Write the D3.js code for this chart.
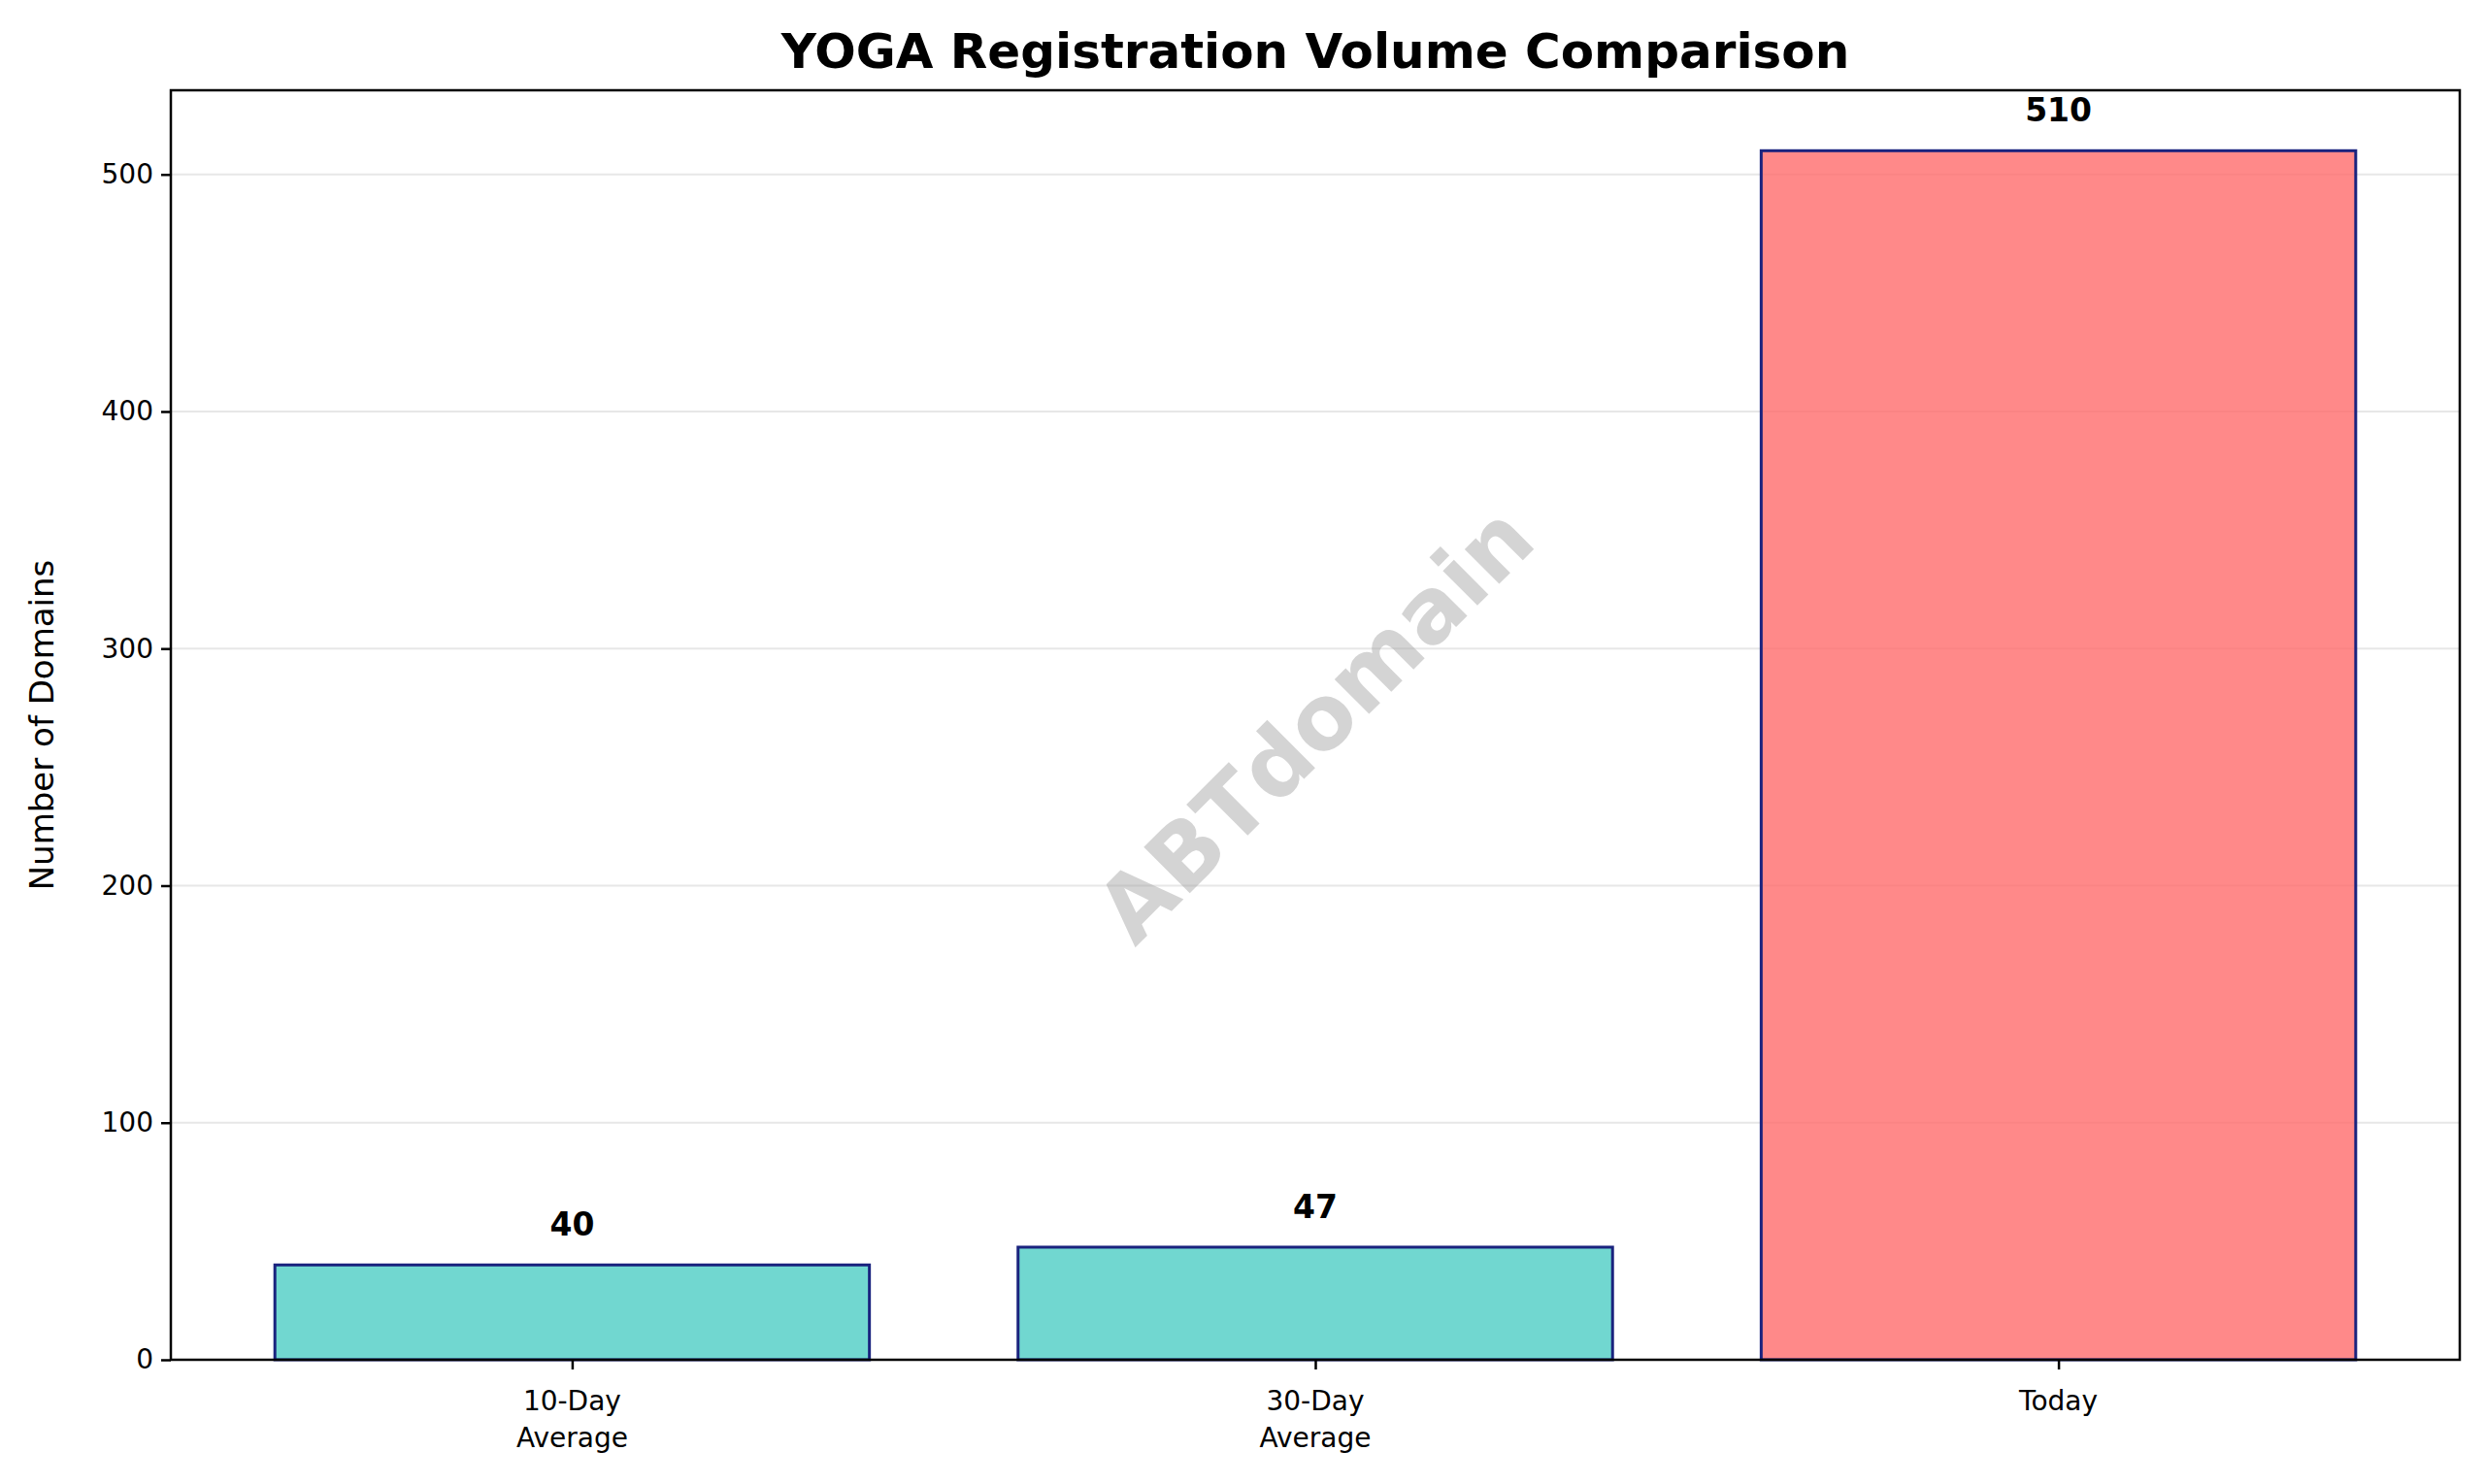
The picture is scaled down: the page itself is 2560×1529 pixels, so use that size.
<!DOCTYPE html>
<html><head><meta charset="utf-8">
<script src="https://cdn.jsdelivr.net/npm/d3@7"></script>
<style>body{margin:0;background:#fff}</style></head>
<body><svg id="c" width="2560" height="1529"></svg>
<script>
const categories = [["10-Day","Average"],["30-Day","Average"],["Today"]];
const values = [40, 47.5, 510];
const valueLabels = ["40","47","510"];
const yTicks = [0,100,200,300,400,500];
const colors = ["#4ECDC4","#4ECDC4","#FF6B6B"];

const svg = d3.select("#c");
const L=176, R=2534, T=93, B=1401;
const x = d3.scaleLinear().domain([-0.54, 2.54]).range([L,R]);
const y = d3.scaleLinear().domain([0, 535.5]).range([B,T]);
const font = "DejaVu Sans, sans-serif";

// grid
svg.append("g").selectAll("line").data(yTicks.filter(d=>d>0)).join("line")
 .attr("x1",L).attr("x2",R).attr("y1",d=>y(d)).attr("y2",d=>y(d))
 .attr("stroke","#b0b0b0").attr("stroke-opacity",0.3).attr("stroke-width",2);

// bars
svg.append("g").selectAll("rect").data(values).join("rect")
 .attr("x",(d,i)=>x(i-0.4)).attr("width",x(0.8)-x(0))
 .attr("y",d=>y(d)).attr("height",d=>B-y(d))
 .attr("fill",(d,i)=>colors[i]).attr("fill-opacity",0.8)
 .attr("stroke","#1a237e").attr("stroke-width",3);

// value labels
svg.append("g").selectAll("text").data(values).join("text")
 .attr("x",(d,i)=>x(i)).attr("y",d=>y(d)-30)
 .attr("text-anchor","middle").attr("font-family",font).attr("font-weight","bold")
 .attr("font-size",33).text((d,i)=>valueLabels[i]);

// watermark
svg.append("text").attr("transform",`translate(${x(1)},${y(268)}) rotate(-45)`)
 .attr("text-anchor","middle").attr("dominant-baseline","central")
 .attr("font-family",font).attr("font-weight","bold").attr("font-size",92)
 .attr("fill","#a0a0a0").attr("fill-opacity",0.45).text("ABTdomain");

// frame
svg.append("rect").attr("x",L).attr("y",T).attr("width",R-L).attr("height",B-T)
 .attr("fill","none").attr("stroke","#000").attr("stroke-width",2.5);

// y axis
const ya = svg.append("g").attr("transform",`translate(${L},0)`)
 .call(d3.axisLeft(y).tickValues(yTicks).tickSize(10).tickPadding(8));
ya.select(".domain").remove();
ya.selectAll("line").attr("stroke-width",2.5);
ya.selectAll("text").attr("font-family",font).attr("font-size",28);

// x axis
const xa = svg.append("g").attr("transform",`translate(0,${B})`)
 .call(d3.axisBottom(x).tickValues([0,1,2]).tickSize(10).tickFormat(""));
xa.select(".domain").remove();
xa.selectAll("line").attr("stroke-width",2.5);
const xl = svg.append("g").selectAll("text").data(categories).join("text")
 .attr("x",(d,i)=>x(i)).attr("y",B+52).attr("text-anchor","middle")
 .attr("font-family",font).attr("font-size",28);
xl.selectAll("tspan").data(d=>d).join("tspan")
 .attr("x",function(){return this.parentNode.getAttribute("x");})
 .attr("dy",(d,i)=>i?38:0).text(d=>d);

// y label
svg.append("text").attr("transform",`translate(55,${(T+B)/2}) rotate(-90)`)
 .attr("text-anchor","middle").attr("font-family",font).attr("font-size",34)
 .text("Number of Domains");

// title
svg.append("text").attr("x",(L+R)/2).attr("y",70).attr("text-anchor","middle")
 .attr("font-family",font).attr("font-weight","bold").attr("font-size",50)
 .text("YOGA Registration Volume Comparison");
</script></body></html>
